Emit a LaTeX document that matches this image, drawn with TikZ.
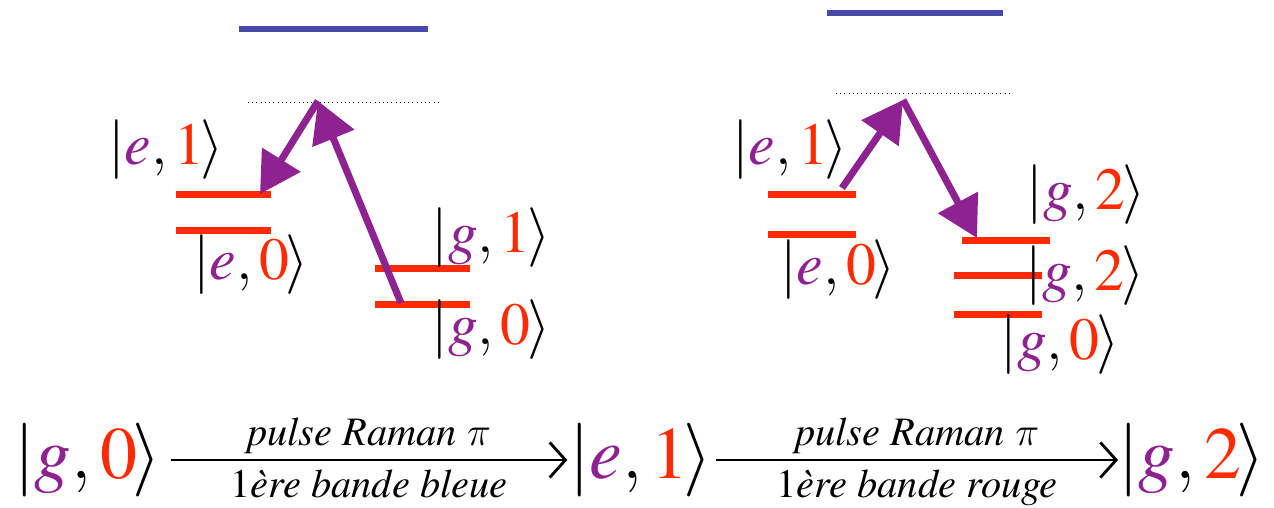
\RequirePackage{fix-cm}
\documentclass[tikz,border=0pt]{standalone}
\usepackage{fontspec}
\setmainfont{texgyretermes}[Extension=.otf, UprightFont=*-regular, ItalicFont=*-italic, BoldFont=*-bold, BoldItalicFont=*-bolditalic]
\usetikzlibrary{arrows.meta}

\definecolor{kpurple}{RGB}{142,34,144}
\definecolor{kred}{RGB}{255,42,0}
\definecolor{kblue}{RGB}{72,72,168}

\newcommand{\ketlbl}[2]{$|\textcolor{kpurple}{\mathit{#1}}{,}\mkern2mu\textcolor{kred}{\mathrm{#2}}\mkern-1mu\rangle$}

\begin{document}
\begin{tikzpicture}[
			x=0.02cm, y=-0.02cm,
			level line/.style={draw=kred, line width=0.14cm},
			virtual line/.style={draw=kblue, line width=0.12cm},
			dotted line/.style={draw=black, dotted, line width=0.4pt},
			raman arrow/.style={draw=kpurple, line width=0.14cm, -{Triangle[length=23pt,width=25pt]}},
			small ket/.style={inner sep=0pt, font=\fontsize{34}{40}\selectfont},
			big ket/.style={inner sep=0pt, font=\fontsize{42}{48}\selectfont},
			step arrow/.style={draw=black, line width=1.6pt, -{Straight Barb[length=9pt,width=20pt,line width=1.6pt]}},
			pulse label/.style={font=\fontsize{23}{28}\selectfont\itshape, inner sep=0pt}
			]
			\useasboundingbox (0,0) rectangle (1274,507);
			
			\coordinate (lvirt) at (318,101);
			\coordinate (le1) at (260,194);
			\coordinate (lg0) at (401,303);
			\draw[virtual line] (239,29) -- (428,29);
			\draw[dotted line] (248,102) -- (438,102);
			\draw[level line] (176,194) -- (271,194);
			\draw[level line] (176,230) -- (271,230);
			\draw[level line] (375,268) -- (470,268);
			\draw[level line] (375,304) -- (470,304);
			\draw[raman arrow] (lg0) -- (lvirt);
			\draw[raman arrow] (lvirt) -- (le1);
			\node[small ket] (le1 lbl) at (166,150) {\ketlbl{e}{1}};
			\node[small ket] (le0 lbl) at (251,265) {\ketlbl{e}{0}};
			\node[small ket] (lg1 lbl) at (491,238) {\ketlbl{g}{1}};
			\node[small ket] (lg0 lbl) at (491,330) {\ketlbl{g}{0}};
			
			\coordinate (re1) at (842,188);
			\coordinate (rvirt) at (903,100);
			\coordinate (rg2) at (977,238);
			\draw[virtual line] (827,13) -- (1003,13);
			\draw[dotted line] (836,93) -- (1010,93);
			\draw[level line] (768,194) -- (856,194);
			\draw[level line] (768,234) -- (856,234);
			\draw[level line] (962,240) -- (1050,240);
			\draw[level line] (954,275) -- (1042,275);
			\draw[level line] (954,314) -- (1042,314);
			\draw[raman arrow] (re1) -- (rvirt);
			\draw[raman arrow] (rvirt) -- (rg2);
			\node[small ket] (re1 lbl) at (790,150) {\ketlbl{e}{1}};
			\node[small ket] (re0 lbl) at (838,270) {\ketlbl{e}{0}};
			\node[small ket] (rg2 lbl) at (1086,195) {\ketlbl{g}{2}};
			\node[small ket] (rg2b lbl) at (1085,276) {\ketlbl{g}{2}};
			\node[small ket] (rg0 lbl) at (1060,345) {\ketlbl{g}{0}};
			
			\node[big ket] (start) at (88,460) {\ketlbl{g}{0}};
			\node[big ket] (mid) at (641,460) {\ketlbl{e}{1}};
			\node[big ket] (end) at (1192,460) {\ketlbl{g}{2}};
			\draw[step arrow] ([xshift=5pt]start.east) -- ([xshift=-1pt]mid.west)
				node[pulse label, midway, above=3pt] {pulse Raman $\pi$}
				node[pulse label, midway, below=5pt] {{\upshape 1}ère bande bleue};
			\draw[step arrow] ([xshift=2pt]mid.east) -- ([xshift=0pt]end.west)
				node[pulse label, midway, above=3pt] {pulse Raman $\pi$}
				node[pulse label, midway, below=5pt] {{\upshape 1}ère bande rouge};
		\end{tikzpicture}
\end{document}
